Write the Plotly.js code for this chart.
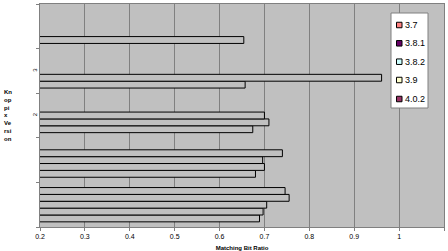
<!DOCTYPE html>
<html>
<head>
<meta charset="utf-8">
<script src="https://cdn.plot.ly/plotly-3.0.1.min.js"></script>
<style>html,body{margin:0;padding:0;background:#fff;}#chart{width:448px;height:251px;}</style>
</head>
<body>
<div id="chart"></div>
<script>
// categories, bottom to top
const categories = ["1", "2", "3", "4", "5"];
const tickLabels = ["", "", "2", "3", ""];
const seriesNames = ["3.7", "3.8.1", "3.8.2", "3.9", "4.0.2"];
const seriesColors = ["#FF8080", "#660066", "#CCFFFF", "#FFFFCC", "#993366"];
// values per series, aligned with categories (null = no bar)
const v37  = [0.689, 0.680, 0.674, 0.657, 0.654];
const v381 = [0.697, 0.700, 0.710, 0.961, null];
const v382 = [0.705, 0.696, 0.700, null, null];
const v39  = [0.755, 0.740, null, null, null];
const v402 = [0.746, null, null, null, null];
const seriesValues = [v37, v381, v382, v39, v402];

const traces = seriesValues.map((vals, i) => ({
  type: 'bar',
  orientation: 'h',
  name: seriesNames[i],
  y: categories,
  x: vals,
  marker: {color: '#c0c0c0', line: {color: '#000000', width: 1}},
  showlegend: false,
  hoverinfo: 'skip'
}));

// plot area pixels: x 40..444, y 4..227
const L = 40, R = 444, T = 4, B = 227;
const px = v => (v - L) / (R - L);
const py = v => (B - v) / (B - T);

const shapes = [{
  type: 'rect', xref: 'paper', yref: 'paper',
  x0: px(391), x1: px(428), y0: py(108), y1: py(13),
  fillcolor: '#ffffff', line: {color: '#808080', width: 1}
}];
const annotations = [];
const itemY = [25, 43.3, 61.7, 80, 99];
seriesNames.forEach((n, i) => {
  shapes.push({
    type: 'rect', xref: 'paper', yref: 'paper',
    x0: px(396.5), x1: px(402), y0: py(itemY[i] + 2.75), y1: py(itemY[i] - 2.75),
    fillcolor: seriesColors[i], line: {color: '#000000', width: 1}
  });
  annotations.push({
    xref: 'paper', yref: 'paper', x: px(403), y: py(itemY[i]),
    xanchor: 'left', yanchor: 'middle', showarrow: false,
    text: n, font: {family: 'Liberation Sans, Arial', size: 9, color: '#000'}
  });
});
annotations.push({
  xref: 'paper', yref: 'paper', x: px(2), y: py(115),
  xanchor: 'left', yanchor: 'middle', showarrow: false, align: 'left',
  text: '<b>Kn<br>op<br>pi<br>x<br>Ve<br>rsi<br>on</b>',
  font: {family: 'Liberation Sans, Arial', size: 6, color: '#000'}
});

const layout = {
  width: 448, height: 251,
  margin: {l: L, r: 448 - R, t: T, b: 251 - B, pad: 0},
  paper_bgcolor: '#ffffff',
  plot_bgcolor: '#c0c0c0',
  barmode: 'group',
  bargap: 0.2308,
  bargroupgap: 0,
  showlegend: false,
  font: {family: 'Liberation Sans, Arial', size: 7, color: '#000'},
  xaxis: {
    range: [0.2, 1.1], dtick: 0.1, tick0: 0.2,
    showgrid: true, gridcolor: '#808080', gridwidth: 1,
    zeroline: false,
    showline: true, linecolor: '#808080', linewidth: 1, mirror: true,
    ticks: 'outside', ticklen: 3, tickcolor: '#808080',
    tickfont: {size: 7},
    title: {text: '<b>Matching Bit Ratio</b>', font: {size: 6}, standoff: 6}
  },
  yaxis: {
    type: 'category',
    categoryorder: 'array', categoryarray: categories,
    tickmode: 'array', tickvals: categories, ticktext: tickLabels,
    tickson: 'boundaries',
    tickangle: -90,
    tickfont: {size: 6},
    showgrid: false, zeroline: false,
    showline: true, linecolor: '#808080', linewidth: 1, mirror: true,
    ticks: 'outside', ticklen: 3, tickcolor: '#808080'
  },
  shapes: shapes,
  annotations: annotations
};

Plotly.newPlot('chart', traces, layout, {displayModeBar: false, staticPlot: true});
</script>
</body>
</html>
